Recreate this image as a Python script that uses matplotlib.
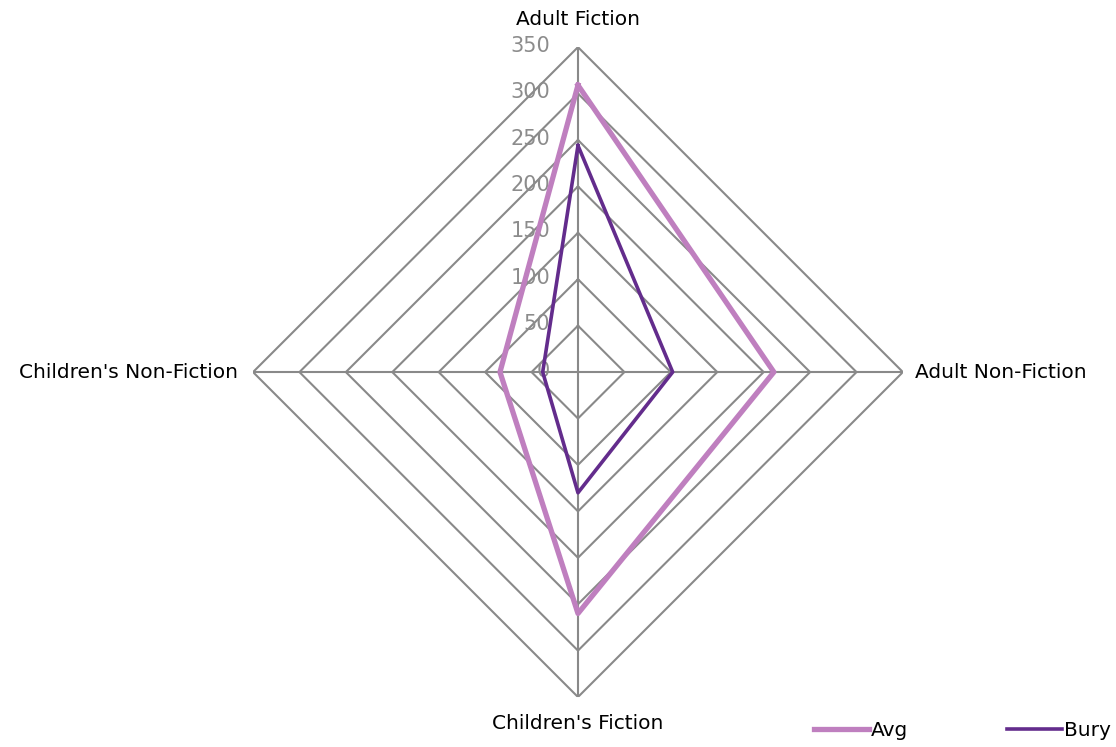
import matplotlib.pyplot as plt
import numpy as np

categories = ["Adult Fiction", "Adult Non-Fiction", "Children's Fiction", "Children's Non-Fiction"]
avg = [309, 211, 260, 84]
bury = [244, 102, 130, 38]
levels = [50, 100, 150, 200, 250, 300, 350]
tick_labels = ["0", "50", "100", "150", "200", "250", "300", "350"]

grid_col = "#898989"
avg_col = "#BF7FBF"
bury_col = "#632C8C"

fig = plt.figure(figsize=(11.16, 7.47), dpi=100)
ax = fig.add_axes([0.2267, 0.0669, 0.5824, 0.870], projection="polar")
ax.set_theta_zero_location("N")
ax.set_theta_direction(-1)
ax.set_ylim(0, 350)
ax.axis("off")

angles = np.arange(len(categories)) * 2 * np.pi / len(categories)
closed = np.append(angles, angles[0])

# polygon grid and spokes
for r in levels:
    ax.plot(closed, [r] * len(closed), color=grid_col, lw=1.5, zorder=1)
for a in angles:
    ax.plot([a, a], [0, 350], color=grid_col, lw=1.5, zorder=1)

# radial tick labels
for i, t in enumerate(tick_labels):
    ax.annotate(t, xy=(0, i * 50), xytext=(-20, 1), textcoords="offset points",
                ha="right", va="center", fontsize=15, color="#8C8C8C")

ax.plot(closed, avg + [avg[0]], color=avg_col, lw=3.8, zorder=3, label="Avg")
ax.plot(closed, bury + [bury[0]], color=bury_col, lw=2.6, zorder=4, label="Bury")

# category labels
fs = 14.5
ax.annotate(categories[0], xy=(angles[0], 350), xytext=(0, 20), textcoords="offset points",
            ha="center", va="center", fontsize=fs)
ax.annotate(categories[1], xy=(angles[1], 350), xytext=(9, 0), textcoords="offset points",
            ha="left", va="center", fontsize=fs)
ax.annotate(categories[2], xy=(angles[2], 350), xytext=(0, -19), textcoords="offset points",
            ha="center", va="center", fontsize=fs)
ax.annotate(categories[3], xy=(angles[3], 350), xytext=(-11, 0), textcoords="offset points",
            ha="right", va="center", fontsize=fs)

fig.legend(loc="lower right", bbox_to_anchor=(1.012, -0.015), ncol=2, frameon=False,
           fontsize=fs, handlelength=2.75, handletextpad=0.1, columnspacing=4.9)

fig.savefig("out.png", dpi=100)
